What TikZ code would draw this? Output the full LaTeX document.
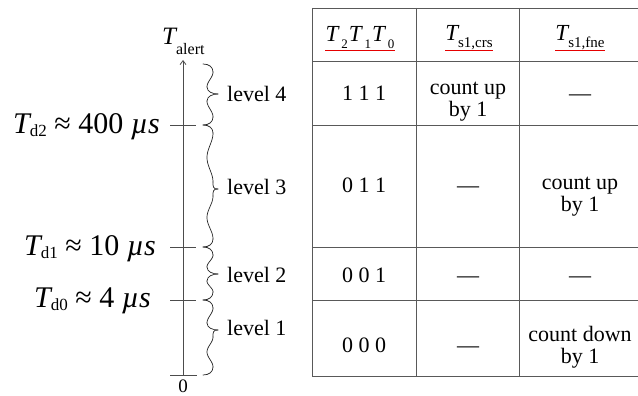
\documentclass[tikz,border=0pt]{standalone}
\usepackage{fontspec}
\setmainfont{Liberation Serif}
\newfontfamily\lser{Liberation Serif}
\usetikzlibrary{arrows.meta}
\newcommand{\fs}[1]{\lser\fontsize{#1}{#1}\selectfont}
\newcommand{\Tsb}[1]{{\itshape T}\raisebox{-3pt}{\fs{17}#1}}
\newcommand{\Thd}[1]{{\itshape T}\hspace{3pt}\raisebox{-6pt}{\fs{13}#1}\hspace{1pt}}
\newcommand{\Tsc}[1]{{\itshape T}\raisebox{-7pt}{\fs{15}#1}}
% wave anchored at its start (x=213 at y=#1)
\newcommand{\wvA}[2]{%
  \pgfmathsetmacro{\wa}{#1}\pgfmathsetmacro{\wb}{#2}%
  \pgfmathsetmacro{\wlen}{\wb-\wa}%
  \pgfmathtruncatemacro{\wk}{max(1,round(\wlen/20))}%
  \pgfmathsetmacro{\wf}{180*\wk/\wlen}%
  \pgfmathsetmacro{\wxe}{210+3*cos(180*\wk)}%
  \draw[bw] plot[smooth,samples=41,domain=\wa:\wb,variable=\t] ({210+3*cos(\wf*(\t-\wa))},\t);}
% wave anchored at its end (x=213 at y=#2)
\newcommand{\wvB}[2]{%
  \pgfmathsetmacro{\wa}{#1}\pgfmathsetmacro{\wb}{#2}%
  \pgfmathsetmacro{\wlen}{\wb-\wa}%
  \pgfmathtruncatemacro{\wk}{max(1,round(\wlen/20))}%
  \pgfmathsetmacro{\wf}{180*\wk/\wlen}%
  \pgfmathsetmacro{\wxe}{210+3*cos(180*\wk)}%
  \draw[bw] plot[smooth,samples=41,domain=\wa:\wb,variable=\t] ({210+3*cos(\wf*(\wb-\t))},\t);}
\newcommand{\brc}[3]{%
  \draw[bw] (203,#1) .. controls (209,#1) and (213,#1+3) .. (213,#1+8);
  \wvA{#1+8}{#2-7}
  \draw[bw] (\wxe,#2-7) .. controls (\wxe,#2-2) and (213,#2) .. (218,#2);
  \wvB{#2+7}{#3-8}
  \draw[bw] (218,#2) .. controls (213,#2) and (\wxe,#2+2) .. (\wxe,#2+7);
  \draw[bw] (213,#3-8) .. controls (213,#3-3) and (209,#3) .. (203,#3);}
\begin{document}
\begin{tikzpicture}[x=1pt,y=-1pt,
  tline/.style={draw=black!65,line width=0.8pt},
  axisline/.style={draw=black!70,line width=0.8pt},
  bw/.style={draw=black!85,line width=0.7pt,line cap=round,line join=round},
  cell/.style={inner sep=0pt,anchor=base,font=\fs{22}},
  lvl/.style={inner sep=0pt,anchor=west,font=\fs{22}},
  big/.style={inner sep=0pt,anchor=base east,font=\fs{30}},
  hdr/.style={inner sep=0pt,anchor=base,font=\fs{23}},
  redline/.style={draw=red!90!black,line width=0.6pt}]
\useasboundingbox (0,0) rectangle (638,396);

% table grid
\foreach \yy in {8,61,125,247,300,376} \draw[tline] (312,\yy) -- (638,\yy);
\foreach \xx in {312,416,519} \draw[tline] (\xx,8) -- (\xx,376);

% header
\node[hdr] (h1) at (360,42) {\Thd{2}\Thd{1}\Thd{0}};
\node[hdr] (h2) at (469,41) {\Tsc{s1,crs}};
\node[hdr] (h3) at (580,41) {\Tsc{s1,fne}};
\coordinate (ry) at (0,50);
\draw[redline] (h1.west |- ry) -- (h1.east |- ry);
\draw[redline] (h2.west |- ry) -- (h2.east |- ry);
\draw[redline] (h3.west |- ry) -- (h3.east |- ry);

% row 1
\node[cell] (r1a) at (364,100) {1 1 1};
\node[cell] (r1b) at (468,95) {count up};
\node[cell] (r1b2) at (468,117) {by 1};
\node[cell] (r1c) at (580,100) {—};
% row 2
\node[cell] (r2a) at (364,193) {0 1 1};
\node[cell] (r2b) at (468,193) {—};
\node[cell] (r2c) at (580,189) {count up};
\node[cell] (r2c2) at (580,211) {by 1};
% row 3
\node[cell] (r3a) at (364,282) {0 0 1};
\node[cell] (r3b) at (468,282) {—};
\node[cell] (r3c) at (580,282) {—};
% row 4
\node[cell] (r4a) at (364,352) {0 0 0};
\node[cell] (r4b) at (468,352) {—};
\node[cell] (r4c) at (580,341) {count down};
\node[cell] (r4c2) at (580,363) {by 1};

% axis
\coordinate (ax0) at (183,375);
\coordinate (axtop) at (183,60);
\draw[axisline,-{Straight Barb[length=4pt,width=6pt]}] (ax0) -- (axtop);
\draw[axisline] (170,125) -- (196,125);
\draw[axisline] (170,247) -- (196,247);
\draw[axisline] (170,300) -- (196,300);
\draw[axisline] (170,375) -- (197,375);
\node[inner sep=0pt,anchor=base,font=\fs{19}] (zero) at (183,392) {0};
\node[inner sep=0pt,anchor=base west,font=\fs{25}] (talert) at (162,45) {\itshape T\upshape\raisebox{-10pt}{\fs{16}alert}};

% tick labels
\node[big] (d2) at (160,133) {\Tsb{d2} ≈ 400 {\itshape µs}};
\node[big] (d1) at (156,255) {\Tsb{d1} ≈ 10 {\itshape µs}};
\node[big] (d0) at (151,307) {\Tsb{d0} ≈ 4 {\itshape µs}};

% braces
\brc{64}{94}{125}
\brc{125}{189}{247}
\brc{247}{274}{300}
\brc{300}{330}{375}

% level labels
\node[lvl] (l4) at (227,94) {level 4};
\node[lvl] (l3) at (227,187) {level 3};
\node[lvl] (l2) at (227,275) {level 2};
\node[lvl] (l1) at (227,328) {level 1};
\end{tikzpicture}
\end{document}
